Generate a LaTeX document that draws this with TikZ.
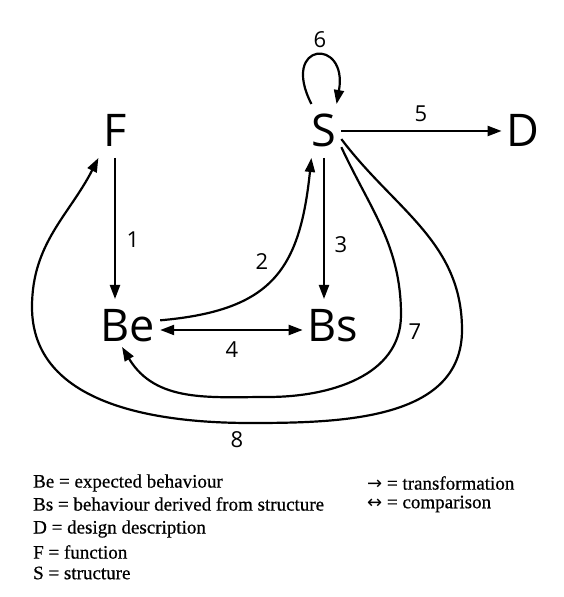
\documentclass[tikz,border=0pt]{standalone}
\usepackage{fontspec}
\setmainfont{Liberation Serif}
\newfontfamily\diagfont{Open Sans}
\newfontfamily\keyfont{Liberation Serif}[FakeBold=0.6]
\newfontfamily\arrowfont{DejaVu Sans}
\usetikzlibrary{arrows.meta, positioning, calc}
\tikzset{
  bigletter/.style={
    font = \diagfont\fontsize{45}{45}\selectfont,
    text height = 32pt,
    text depth = 0pt,
    inner sep = 0,
    outer xsep = 5pt,
    outer ysep = 11pt
  },
  flowvec/.style={
    line width = 2.2pt,
    arrows = {-Triangle[length=14pt, width=10pt]}
  },
  comparevec/.style={
    line width = 2.2pt,
    arrows = {Triangle[length=14pt, width=10pt]-Triangle[length=14pt, width=10pt]}
  },
  flowlabel/.style={
    font = \diagfont\fontsize{22}{22}\selectfont,
    inner sep = 0
  },
  keytext/.style={
    anchor = west,
    font = \keyfont\fontsize{19}{19}\selectfont,
    inner sep = 0
  }
}

\begin{document}
\begin{tikzpicture}[x=1pt, y=1pt]
    \useasboundingbox (0,0) rectangle (564,597);
    \coordinate (fpos) at (115,466);
    \coordinate (spos) at (324,466);
    \coordinate (dpos) at (523,466);
    \coordinate (bepos) at (128,271);
    \coordinate (bspos) at (333,271);
    \coordinate (right7) at (401,282);
    \coordinate (low7) at (268,200);
    \coordinate (right8) at (462,267);
    \coordinate (low8) at (250,174);
    \coordinate (left8) at (32,290);
    \node (F) at (fpos)[bigletter]{F};
    \node (S) at (spos)[bigletter]{S};
    \node (D) at (dpos)[bigletter]{D};
    \node (Be) at (bepos)[bigletter]{Be};
    \node (Bs) at (bspos)[bigletter]{Bs};
    \draw[flowvec] (F.south) -- (F.south |- Be.north);
    \draw[flowvec] (Be.10) to[out=5, in=-96, looseness=1.3] (S.245);
    \draw[flowvec] (S.south) -- (S.south |- Bs.north);
    \draw[comparevec] ([yshift=-4pt]Be.east) -- ([yshift=-4pt]Bs.west);
    \draw[flowvec] (S.east) -- (D.west);
    \draw[flowvec] (S.115) .. controls +(117:70) and +(80:68) .. (S.65);
    \draw[flowvec, shorten >=-7pt] (S.-43) to[out=-65, in=90] (right7)
        to[out=-90, in=0] (low7) to[out=180, in=-59] (Be.-95);
    \draw[flowvec] (S.-25) to[out=-53, in=90] (right8)
        to[out=-90, in=0] (low8) to[out=180, in=-90] (left8)
        to[out=90, in=243] (F.south west);
    \node (n1) at (133,357)[flowlabel]{1};
    \node (n2) at (262,335)[flowlabel]{2};
    \node (n3) at (341,352)[flowlabel]{3};
    \node (n4) at (232,247)[flowlabel]{4};
    \node (n5) at (421,483)[flowlabel]{5};
    \node (n6) at (320,557)[flowlabel]{6};
    \node (n7) at (415,265)[flowlabel]{7};
    \node (n8) at (237,157)[flowlabel]{8};
    \node (keybe) at (33,114)[keytext]{Be = expected behaviour};
    \node (keybs) at (33,93)[keytext]{Bs = behaviour derived from structure};
    \node (keyd) at (33,68)[keytext]{D = design description};
    \node (keyf) at (33,45)[keytext]{F = function};
    \node (keys) at (33,24)[keytext]{S = structure};
    \node (keytrans) at (367,114)[keytext]{{\arrowfont\fontsize{18}{18}\selectfont →} = transformation};
    \node (keycomp) at (367,93)[keytext]{{\arrowfont\fontsize{18}{18}\selectfont ↔} = comparison};
  \end{tikzpicture}
\end{document}
